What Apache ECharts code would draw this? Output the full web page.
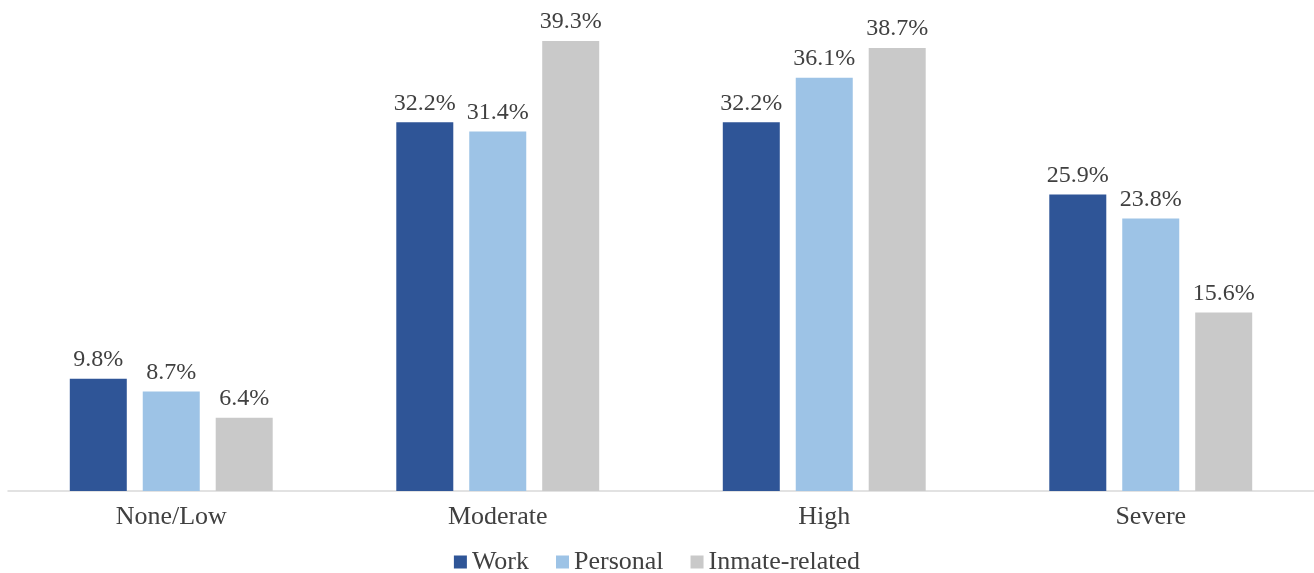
<!DOCTYPE html>
<html>
<head>
<meta charset="utf-8">
<script src="https://cdn.jsdelivr.net/npm/echarts@6/dist/echarts.min.js"></script>
<style>
  html, body { margin: 0; padding: 0; background: #ffffff; }
  #chart { width: 1314px; height: 573px; }
</style>
</head>
<body>
<div id="chart"></div>
<script>
// Stress level categories and share of respondents per stressor type (%)
const categories = ['None/Low', 'Moderate', 'High', 'Severe'];
const seriesNames = ['Work', 'Personal', 'Inmate-related'];
const workValues = [9.8, 32.2, 32.2, 25.9];
const personalValues = [8.7, 31.4, 36.1, 23.8];
const inmateValues = [6.4, 39.3, 38.7, 15.6];

const colors = ['#2F5597', '#9DC3E6', '#C9C9C9'];
const fontFamily = '"Liberation Serif", "Times New Roman", serif';
const textColor = '#404040';

const chart = echarts.init(document.getElementById('chart'));

function makeSeries(name, values, color) {
  return {
    name: name,
    type: 'bar',
    data: values,
    barWidth: 57,
    barGap: '28%',
    itemStyle: { color: color },
    label: {
      show: true,
      position: 'top',
      distance: 7,
      formatter: p => p.value.toFixed(1) + '%',
      fontFamily: fontFamily,
      fontSize: 24,
      color: textColor
    }
  };
}

chart.setOption({
  animation: false,
  backgroundColor: '#ffffff',
  grid: { left: 8, right: 0, top: 33, bottom: 82 },
  legend: {
    top: 544,
    left: 'center',
    icon: 'rect',
    itemWidth: 13,
    itemHeight: 13,
    itemGap: 27,
    textStyle: { fontFamily: fontFamily, fontSize: 26, color: textColor },
    data: seriesNames
  },
  xAxis: {
    type: 'category',
    data: categories,
    axisLine: { lineStyle: { color: '#D9D9D9', width: 1.5 } },
    axisTick: { show: false },
    axisLabel: { fontFamily: fontFamily, fontSize: 26, color: textColor, margin: 13 }
  },
  yAxis: {
    type: 'value',
    min: 0,
    max: 40,
    show: false,
    splitLine: { show: false }
  },
  series: [
    makeSeries(seriesNames[0], workValues, colors[0]),
    makeSeries(seriesNames[1], personalValues, colors[1]),
    makeSeries(seriesNames[2], inmateValues, colors[2])
  ]
});
</script>
</body>
</html>
